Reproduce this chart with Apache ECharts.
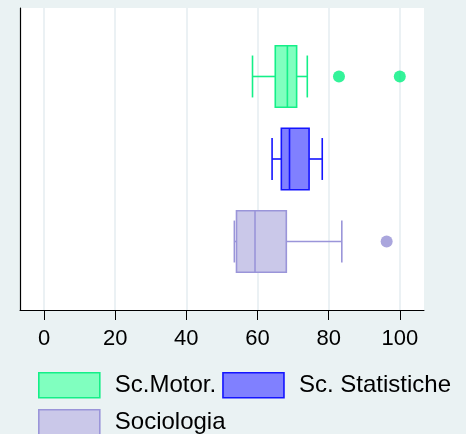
<!DOCTYPE html>
<html><head><meta charset="utf-8">
<script src="https://cdn.jsdelivr.net/npm/echarts@6/dist/echarts.min.js"></script>
<style>html,body{margin:0;padding:0;background:#eaf2f3}#c{width:466px;height:434px}</style>
</head><body><div id="c"></div>
<script>
const categories = ['Sc.Motor.', 'Sc. Statistiche', 'Sociologia'];
// [lower whisker, Q1, median, Q3, upper whisker]
const motorStats = [58.6, 65.0, 68.4, 71.0, 74.0];
const statisticheStats = [64.1, 66.7, 69.0, 74.5, 78.2];
const sociologiaStats = [53.5, 54.1, 59.3, 68.1, 83.7];
const motorOutliers = [82.9, 100];
const statisticheOutliers = [];
const sociologiaOutliers = [96.3];
const xTickValues = [0, 20, 40, 60, 80, 100];

const allStats = [motorStats, statisticheStats, sociologiaStats];
const allOutliers = [motorOutliers, statisticheOutliers, sociologiaOutliers];
const fills = ['#80ffbf', '#8080ff', '#cac8e9'];
const strokes = ['#14ef88', '#1414ff', '#9a95d9'];
const dotColors = ['#00f080', '#1414ff', '#9590d5'];
const FONT = 'Liberation Sans, Arial, sans-serif';

function makeRender(i) {
  return function (params, api) {
    const y = api.value(0);
    const lo = api.coord([api.value(1), y]);
    const q1 = api.coord([api.value(2), y]);
    const md = api.coord([api.value(3), y]);
    const q3 = api.coord([api.value(4), y]);
    const hi = api.coord([api.value(5), y]);
    const bh = api.size([0, 0.744])[1];
    const ch = api.size([0, 0.508])[1];
    const cy = lo[1];
    const ls = { stroke: strokes[i], lineWidth: 1.6, fill: null };
    return {
      type: 'group',
      children: [
        { type: 'line', shape: { x1: lo[0], y1: cy, x2: q1[0], y2: cy }, style: ls },
        { type: 'line', shape: { x1: q3[0], y1: cy, x2: hi[0], y2: cy }, style: ls },
        { type: 'line', shape: { x1: lo[0], y1: cy - ch / 2, x2: lo[0], y2: cy + ch / 2 }, style: ls },
        { type: 'line', shape: { x1: hi[0], y1: cy - ch / 2, x2: hi[0], y2: cy + ch / 2 }, style: ls },
        { type: 'rect', shape: { x: q1[0], y: cy - bh / 2, width: q3[0] - q1[0], height: bh },
          style: { fill: fills[i], stroke: strokes[i], lineWidth: 1.6 } },
        { type: 'line', shape: { x1: md[0], y1: cy - bh / 2, x2: md[0], y2: cy + bh / 2 }, style: ls }
      ]
    };
  };
}

const series = [];
categories.forEach(function (name, i) {
  series.push({
    name: name, type: 'custom', renderItem: makeRender(i),
    itemStyle: { color: fills[i], borderColor: strokes[i] },
    encode: { x: [1, 2, 3, 4, 5], y: 0 },
    data: [[i].concat(allStats[i])], z: 3
  });
  series.push({
    name: name, type: 'scatter', symbol: 'circle', symbolSize: 12,
    itemStyle: { color: dotColors[i] }, z: 4,
    data: allOutliers[i].map(function (v) { return [v, i]; })
  });
});

const chart = echarts.init(document.getElementById('c'));
chart.setOption({
  animation: false,
  backgroundColor: '#eaf2f3',
  grid: { left: 20, right: 42, top: 8, bottom: 124, show: true, backgroundColor: '#ffffff', borderWidth: 0 },
  xAxis: {
    type: 'value', min: -6.75, max: 106.8,
    axisLine: { show: true, onZero: false, lineStyle: { color: '#000', width: 1 } },
    axisTick: { show: true, customValues: xTickValues, length: 10, lineStyle: { color: '#000', width: 1 } },
    axisLabel: { customValues: xTickValues, fontSize: 22, color: '#000', margin: 18, fontFamily: FONT },
    splitLine: { show: true, lineStyle: { color: '#e4edf0', width: 1.5 } }
  },
  yAxis: {
    type: 'value', min: -0.83, max: 2.83, inverse: true,
    axisLine: { show: true, onZero: false, lineStyle: { color: '#000', width: 1.2 } },
    axisTick: { show: false }, axisLabel: { show: false }, splitLine: { show: false }
  },
  legend: {
    left: 38, top: 369.7, width: 425, orient: 'horizontal', padding: 0,
    itemWidth: 61, itemHeight: 25, itemGap: 6, icon: 'rect',
    textStyle: { fontSize: 24, color: '#000', fontFamily: FONT, lineHeight: 31, padding: [0, 0, 0, 10] },
    data: categories.map(function (c, i) {
      return { name: c, icon: 'rect', itemStyle: { color: fills[i], borderColor: strokes[i], borderWidth: 1.6 } };
    })
  },
  series: series
});
</script>
</body></html>
